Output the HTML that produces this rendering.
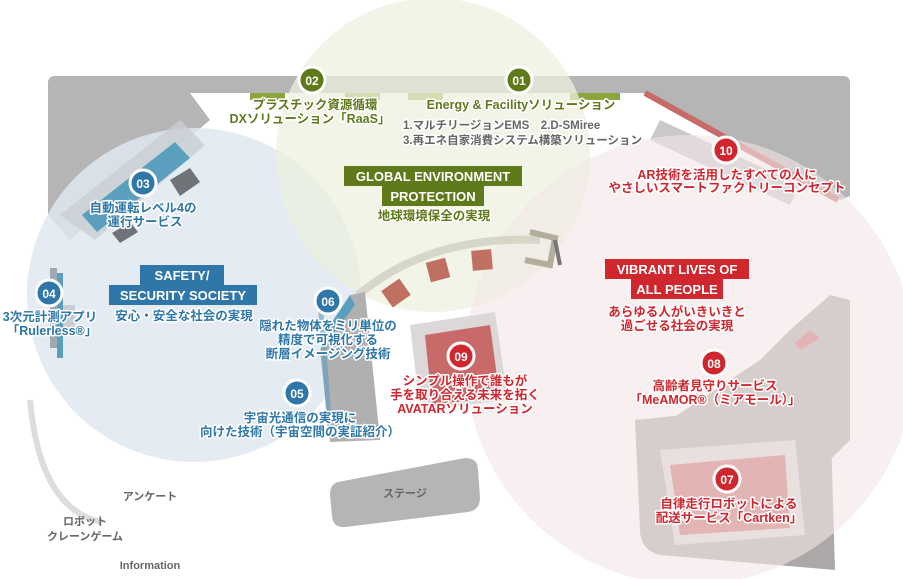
<!DOCTYPE html>
<html><head><meta charset="utf-8"><style>
html,body{margin:0;padding:0;background:#fff;}
svg{display:block}
text{font-family:"Liberation Sans","Noto Sans CJK JP",sans-serif;font-weight:bold;}
.h{paint-order:stroke;stroke:#fff;stroke-width:3px;stroke-linejoin:round}
.b{fill:#2f77a8}.g{fill:#5e7a1a}.r{fill:#d0262e}.k{fill:#666}
</style></head><body>
<svg width="903" height="579" viewBox="0 0 903 579" xmlns="http://www.w3.org/2000/svg">
<path d="M55,76 H843 Q850,76 850,83 V196 L840,200 L643,93 H190 L210,120 L70,240 L48,215 V83 Q48,76 55,76Z" fill="#b5b5b5"/>
<rect x="250" y="93" width="35" height="7" fill="#8aa53a"/><rect x="345" y="93" width="35" height="7" fill="#8aa53a"/>
<rect x="408" y="93" width="35" height="7" fill="#8aa53a"/><rect x="570" y="93" width="50" height="7" fill="#8aa53a"/>
<path d="M645,93 L838,200" stroke="#c86a6a" stroke-width="6"/>
<path d="M660,120 L800,185 L790,205 L650,140Z" fill="#c9c9c9"/>
<path d="M830,295 L850,300 V440 L820,470 L680,460 L670,420 L760,360 L790,330Z" fill="#b0a8a8"/>
<path d="M635,420 L830,400 L835,570 L660,555 Q640,550 640,530Z" fill="#ada8a8"/>
<path d="M660,450 L795,440 L805,535 L675,545Z" fill="#d9d4d4"/>
<path d="M670,465 L785,455 L790,528 L680,535Z" fill="#c86a6a"/>
<path d="M810,330 L820,338 L800,350 L795,343Z" fill="#c86a6a"/>
<circle cx="194" cy="295" r="167" fill="#dfe8f1" fill-opacity="0.85"/>
<circle cx="433" cy="155" r="157" fill="#ecf0de" fill-opacity="0.75"/>
<circle cx="690" cy="360" r="225" fill="#f4e6e6" fill-opacity="0.6"/>
<path d="M60,215 L180,120 L205,145 L95,240Z" fill="#c9ced4" fill-opacity="0.8"/>
<path d="M82,215 L175,142 L190,158 L97,232Z" fill="#5b9fbf"/>
<path d="M170,180 L190,168 L200,182 L180,196Z" fill="#6f7378"/>
<path d="M112,233 L130,222 L138,232 L120,243Z" fill="#6f7378"/>
<rect x="50" y="268" width="7" height="80" fill="#a0a8b0"/><rect x="57" y="273" width="6" height="85" fill="#5b9fbf"/>
<rect x="63" y="305" width="12" height="30" fill="#c9ced4"/>
<path d="M30,400 Q40,510 102,522" stroke="#ddd" stroke-width="6" fill="none"/>
<path d="M358,295 Q430,235 540,240" stroke="#cfcfc0" stroke-width="8" fill="none" opacity="0.8"/>
<path d="M530,232 L555,238 L550,265 L525,260" stroke="#b3ad9c" stroke-width="6" fill="none"/>
<path d="M555,240 L560,265" stroke="#777" stroke-width="4"/>
<rect x="385" y="283" width="22" height="20" fill="#c07060" transform="rotate(-35 396 293)"/>
<rect x="428" y="260" width="20" height="20" fill="#c07060" transform="rotate(-15 438 270)"/>
<rect x="472" y="250" width="20" height="20" fill="#c07060" transform="rotate(-5 482 260)"/>
<path d="M350,295 L365,292 L380,440 L330,442 L320,350Z" fill="#b0b0b0"/>
<path d="M320,340 L350,295 L355,305 L325,345Z" fill="#5b9fbf"/>
<path d="M320,300 L330,430" stroke="#5b9fbf" stroke-width="5" opacity="0.6"/>
<path d="M410,325 L495,312 L508,400 L420,410Z" fill="#ddd8d8"/>
<path d="M425,335 L490,325 L500,398 L432,404Z" fill="#c86a6a"/>
<path d="M338,482 L465,458 Q478,458 478,470 L480,498 Q480,510 468,512 L345,527 Q333,528 332,516 L330,495 Q330,484 338,482Z" fill="#b5b5b5"/>
<text x="405" y="497" font-size="11" class="k" text-anchor="middle">ステージ</text>
<text x="150" y="500" font-size="11" class="k" text-anchor="middle">アンケート</text>
<text x="85" y="525" font-size="11" class="k" text-anchor="middle">ロボット</text>
<text x="85" y="540" font-size="11" class="k" text-anchor="middle">クレーンゲーム</text>
<text x="150" y="569" font-size="11" class="k" text-anchor="middle">Information</text>
<g stroke="#fff" stroke-width="3">
<circle cx="312" cy="80" r="13" fill="#5e7a1a"/><circle cx="519" cy="80" r="13" fill="#5e7a1a"/>
<circle cx="143" cy="183" r="13" fill="#2f77a8"/><circle cx="49" cy="293" r="13" fill="#2f77a8"/>
<circle cx="328" cy="301" r="13" fill="#2f77a8"/><circle cx="297" cy="393" r="13" fill="#2f77a8"/>
<circle cx="461" cy="356" r="13" fill="#d0262e"/><circle cx="726" cy="150" r="13" fill="#d0262e"/>
<circle cx="714" cy="363" r="13" fill="#d0262e"/><circle cx="727" cy="479" r="13" fill="#d0262e"/>
</g>
<g font-size="12" fill="#fff" text-anchor="middle">
<text x="312" y="85">02</text><text x="519" y="85">01</text><text x="143" y="188">03</text><text x="49" y="298">04</text>
<text x="328" y="306">06</text><text x="297" y="398">05</text><text x="461" y="361">09</text><text x="726" y="155">10</text>
<text x="714" y="368">08</text><text x="727" y="484">07</text>
</g>
<g font-size="12.5" text-anchor="middle">
<text class="h g" x="315" y="109">プラスチック資源循環</text>
<text class="h g" x="310" y="123">DXソリューション「RaaS」</text>
<text class="h g" x="521" y="109">Energy &amp; Facilityソリューション</text>
<text class="h b" x="143" y="212">自動運転レベル4の</text>
<text class="h b" x="145" y="226">運行サービス</text>
<text class="h b" x="50" y="321">3次元計測アプリ</text>
<text class="h b" x="52" y="335">「Rulerless®」</text>
<text class="h b" x="328" y="330">隠れた物体をミリ単位の</text>
<text class="h b" x="328" y="344">精度で可視化する</text>
<text class="h b" x="328" y="358">断層イメージング技術</text>
<text class="h b" x="300" y="422">宇宙光通信の実現に</text>
<text class="h b" x="300" y="436">向けた技術（宇宙空間の実証紹介）</text>
<text class="h r" x="465" y="385">シンプル操作で誰もが</text>
<text class="h r" x="465" y="399">手を取り合える未来を拓く</text>
<text class="h r" x="465" y="413">AVATARソリューション</text>
<text class="h r" x="727" y="179">AR技術を活用したすべての人に</text>
<text class="h r" x="727" y="192">やさしいスマートファクトリーコンセプト</text>
<text class="h r" x="715" y="390">高齢者見守りサービス</text>
<text class="h r" x="715" y="404">「MeAMOR®（ミアモール）」</text>
<text class="h r" x="729" y="508">自律走行ロボットによる</text>
<text class="h r" x="729" y="522">配送サービス「Cartken」</text>
<text class="h r" x="677" y="316">あらゆる人がいきいきと</text>
<text class="h r" x="677" y="330">過ごせる社会の実現</text>
<text class="h g" x="434" y="220">地球環境保全の実現</text>
<text class="h b" x="184" y="320">安心・安全な社会の実現</text>
</g>
<g font-size="11.5" fill="#666" class="h"><text x="403" y="129">1.マルチリージョンEMS　2.D-SMiree</text><text x="403" y="144">3.再エネ自家消費システム構築ソリューション</text></g>
<rect x="344" y="166" width="178" height="20" fill="#5e7a1a"/><rect x="382" y="186" width="102" height="20" fill="#5e7a1a"/>
<rect x="140" y="265" width="84" height="20" fill="#2f77a8"/><rect x="109" y="285" width="148" height="20" fill="#2f77a8"/>
<rect x="605" y="259" width="144" height="20" fill="#d0262e"/><rect x="631" y="279" width="92" height="20" fill="#d0262e"/>
<g font-size="13" fill="#fff" text-anchor="middle">
<text x="433" y="181">GLOBAL ENVIRONMENT</text><text x="433" y="201">PROTECTION</text>
<text x="182" y="280">SAFETY/</text><text x="183" y="300">SECURITY SOCIETY</text>
<text x="677" y="274">VIBRANT LIVES OF</text><text x="677" y="294">ALL PEOPLE</text>
</g>
</svg>
</body></html>
